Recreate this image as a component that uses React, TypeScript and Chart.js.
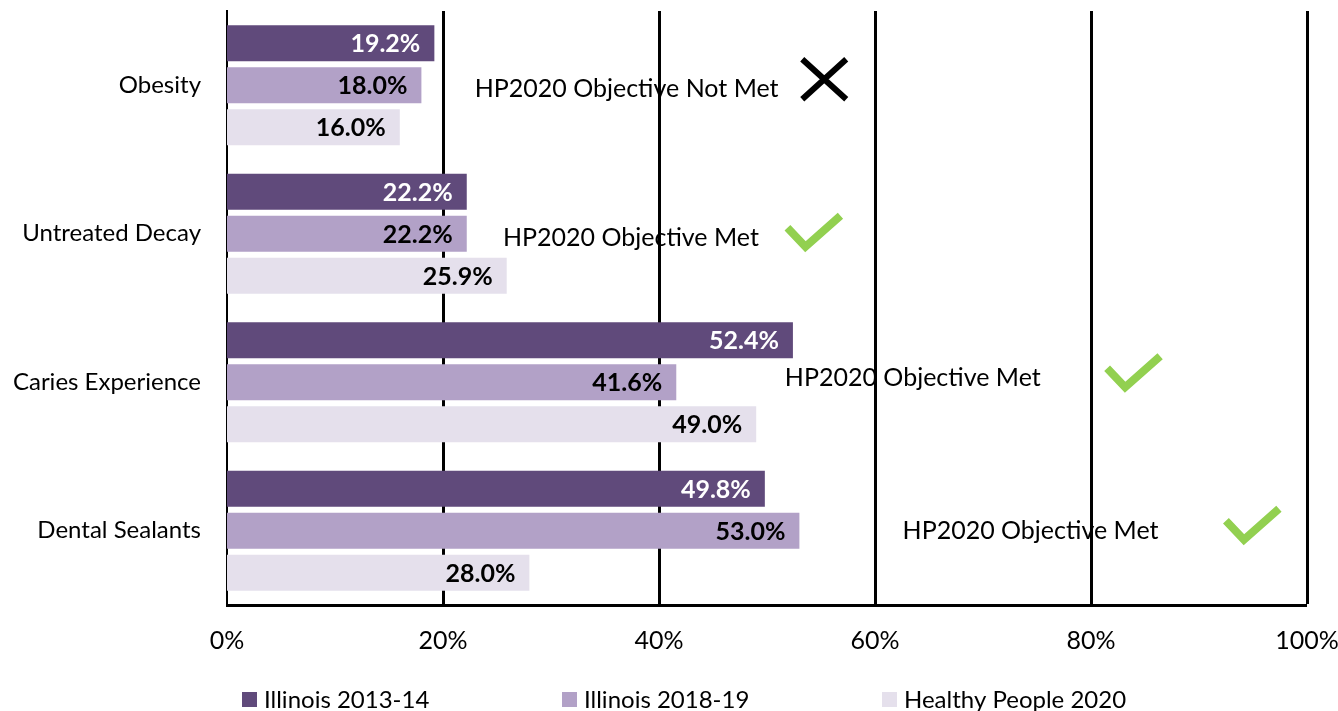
import { useEffect, useRef } from "react";
import { Chart, registerables } from "chart.js";

Chart.register(...registerables);

// ---- data ----
const categories = ["Obesity", "Untreated Decay", "Caries Experience", "Dental Sealants"];
const seriesNames = ["Illinois 2013-14", "Illinois 2018-19", "Healthy People 2020"];
const illinois2013 = [19.2, 22.2, 52.4, 49.8];
const illinois2018 = [18.0, 22.2, 41.6, 53.0];
const healthyPeople2020 = [16.0, 25.9, 49.0, 28.0];
const xTickValues = [0, 20, 40, 60, 80, 100];
const objectiveLabels = [
  "HP2020 Objective Not Met",
  "HP2020 Objective Met",
  "HP2020 Objective Met",
  "HP2020 Objective Met",
];
const objectiveMet = [false, true, true, true];

// ---- styles / layout ----
const FONT = "Lato, 'Open Sans', 'DejaVu Sans', sans-serif";
const seriesColors = ["#604A7B", "#B2A1C7", "#E5E0EC"];
const labelColors = ["#FFFFFF", "#000000", "#000000"];
// annotation placement: text centre (axis %), vertical offset (px), mark centre (axis %), mark offset (px)
const noteLayout = [
  { tx: 37.0, ty: 4, mx: 55.3, my: -6 },
  { tx: 37.4, ty: 4, mx: 54.3, my: -2 },
  { tx: 63.5, ty: -4, mx: 83.9, my: -10 },
  { tx: 74.4, ty: 0, mx: 94.9, my: -6 },
];
const legendStarts = [242, 562, 882];

const notesPlugin = {
  id: "notes",
  beforeDraw(chart: any) {
    const { ctx, scales } = chart;
    const xs = scales.x;
    const ys = scales.y;
    ctx.save();
    objectiveLabels.forEach((txt, i) => {
      const L = noteLayout[i];
      const cy = ys.getPixelForValue(i);
      ctx.font = `25px ${FONT}`;
      ctx.fillStyle = "#000";
      ctx.textAlign = "center";
      ctx.textBaseline = "middle";
      ctx.fillText(txt, xs.getPixelForValue(L.tx), cy + L.ty);
      const mx = xs.getPixelForValue(L.mx);
      const my = cy + L.my;
      if (objectiveMet[i]) {
        ctx.strokeStyle = "#92D050";
        ctx.lineWidth = 8;
        ctx.lineJoin = "miter";
        ctx.lineCap = "butt";
        ctx.beginPath();
        ctx.moveTo(mx - 26, my - 4);
        ctx.lineTo(mx - 8, my + 15);
        ctx.lineTo(mx + 27, my - 16);
        ctx.stroke();
      } else {
        ctx.strokeStyle = "#000";
        ctx.lineWidth = 6;
        ctx.lineCap = "butt";
        ctx.beginPath();
        ctx.moveTo(mx - 22, my - 20);
        ctx.lineTo(mx + 22, my + 20);
        ctx.moveTo(mx + 22, my - 20);
        ctx.lineTo(mx - 22, my + 20);
        ctx.stroke();
      }
    });
    ctx.restore();
  },
  afterDatasetsDraw(chart: any) {
    const { ctx } = chart;
    ctx.save();
    ctx.font = `bold 25px ${FONT}`;
    ctx.textAlign = "right";
    ctx.textBaseline = "middle";
    chart.data.datasets.forEach((ds: any, di: number) => {
      const meta = chart.getDatasetMeta(di);
      meta.data.forEach((el: any, i: number) => {
        ctx.fillStyle = labelColors[di];
        ctx.fillText(ds.data[i].toFixed(1) + "%", el.x - 14, el.y + 1);
      });
    });
    ctx.restore();
  },
  afterDraw(chart: any) {
    const { ctx } = chart;
    ctx.save();
    ctx.font = `24px ${FONT}`;
    ctx.textAlign = "left";
    ctx.textBaseline = "middle";
    chart.data.datasets.forEach((ds: any, di: number) => {
      const x0 = legendStarts[di];
      ctx.fillStyle = seriesColors[di];
      ctx.fillRect(x0, 692, 15, 15);
      ctx.fillStyle = "#000";
      ctx.fillText(ds.label, x0 + 22, 700);
    });
    ctx.restore();
  },
};

export default function App() {
  const ref = useRef<HTMLCanvasElement | null>(null);
  useEffect(() => {
    if (!ref.current) return;
    const chart = new Chart(ref.current, {
      type: "bar",
      data: {
        labels: categories,
        datasets: [illinois2013, illinois2018, healthyPeople2020].map((d, i) => ({
          label: seriesNames[i],
          data: d,
          backgroundColor: seriesColors[i],
          borderWidth: 0,
          categoryPercentage: 0.848,
          barPercentage: 0.857,
        })),
      },
      options: {
        indexAxis: "y",
        animation: false,
        responsive: true,
        maintainAspectRatio: false,
        layout: { padding: { top: 11, right: 31, left: 0, bottom: 0 } },
        plugins: { legend: { display: false }, tooltip: { enabled: false } },
        scales: {
          x: {
            min: 0,
            max: 100,
            afterBuildTicks: (s: any) => {
              s.ticks = xTickValues.map((v) => ({ value: v }));
            },
            afterFit: (s: any) => {
              s.height = 106;
              s.paddingLeft = 0;
              s.paddingRight = 0;
            },
            ticks: {
              callback: (v: any) => v + "%",
              color: "#000",
              font: { family: FONT, size: 25 },
              padding: 21,
              maxRotation: 0,
            },
            grid: {
              color: "#000",
              lineWidth: (c: any) => (c.index === 0 ? 0 : 3),
              drawTicks: false,
            },
            border: { display: true, color: "#000", width: 3 },
          },
          y: {
            afterFit: (s: any) => {
              s.width = 227;
              s.paddingTop = 0;
              s.paddingBottom = 0;
            },
            ticks: {
              color: "#000",
              font: { family: FONT, size: 24 },
              padding: 26,
            },
            grid: { display: false, drawTicks: false },
            border: { display: true, color: "#000", width: 2 },
          },
        },
      },
      plugins: [notesPlugin],
    } as any);
    return () => chart.destroy();
  }, []);
  return (
    <div style={{ position: "fixed", left: 0, top: 0, width: 1338, height: 711, background: "#fff" }}>
      <canvas ref={ref} />
    </div>
  );
}
